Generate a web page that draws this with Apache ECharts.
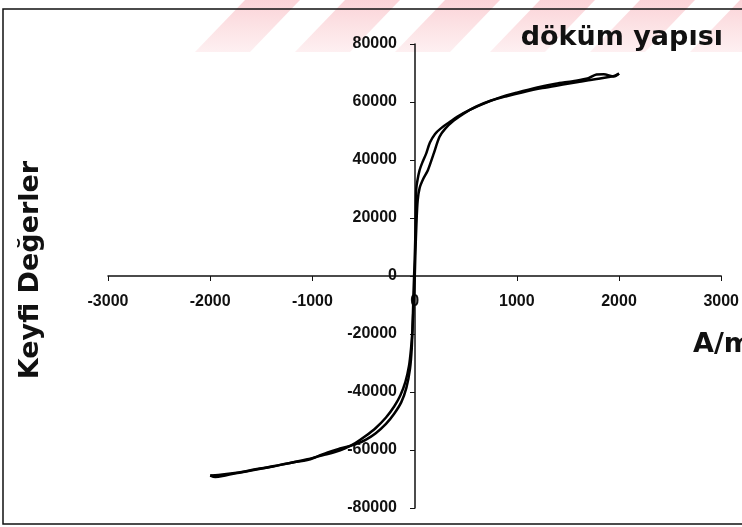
<!DOCTYPE html>
<html>
<head>
<meta charset="utf-8">
<script src="https://cdn.jsdelivr.net/npm/echarts@6/dist/echarts.min.js"></script>
<style>
  html, body { margin: 0; padding: 0; background: #fff; }
  #main { width: 742px; height: 527px; }
</style>
</head>
<body>
<div id="main"></div>
<script>
// inen kol (H azalirken)
var downX = [2000, 1950, 1850, 1780, 1700, 1550, 1380, 1200, 1000, 830, 700, 540, 420, 340, 260, 200, 150, 114, 80, 49, 28, 16, 8, 0, -10, -18, -28, -45, -80, -130, -200, -280, -380, -480, -560, -650, -750, -850, -950, -1050, -1200, -1400, -1600, -1750, -1880, -1950, -2000];
var downY = [69800, 68800, 69600, 69500, 68200, 67200, 66300, 65000, 63200, 61500, 59800, 57300, 55000, 53000, 51000, 49000, 46000, 42300, 39500, 36500, 33000, 29800, 15000, 5000, -5000, -15000, -25000, -32000, -38500, -43500, -47500, -51000, -54200, -56500, -57800, -58800, -59700, -60800, -62200, -63500, -64300, -65800, -67100, -68000, -69000, -69300, -68800];
// cikan kol (H artarken)
var upX = [-2000, -1920, -1800, -1650, -1450, -1250, -1050, -900, -780, -680, -580, -480, -380, -280, -200, -140, -90, -55, -35, -20, -10, 0, 8, 18, 30, 49, 85, 130, 185, 244, 300, 380, 480, 600, 750, 900, 1050, 1250, 1450, 1600, 1700, 1800, 1900, 1960, 2000];
var upY = [-68800, -68600, -68100, -67300, -66000, -64700, -63200, -61800, -60700, -59400, -57600, -55200, -52400, -48800, -45000, -41200, -36500, -31000, -25000, -18000, -10000, -2000, 8000, 18000, 26000, 30300, 33500, 36500, 42000, 48000, 50800, 53500, 56000, 58400, 60500, 62000, 63300, 64800, 66000, 66900, 67500, 68000, 68600, 69100, 69800];

var xTicks = [-3000, -2000, -1000, 0, 1000, 2000, 3000];
var yTicks = [-80000, -60000, -40000, -20000, 0, 20000, 40000, 60000, 80000];

function pairs(xs, ys) {
  var out = [];
  for (var i = 0; i < xs.length; i++) out.push([xs[i], ys[i]]);
  return out;
}

var W = 742, H = 527;
var gLeft = 108, gRight = 20, gTop = 44, gBottom = 19;
// eksenler sifirdan gecsin diye ortaya kaydiriliyor
var xShift = -(H - gTop - gBottom) / 2;
var yShift = -(W - gLeft - gRight) / 2;

var myChart = echarts.init(document.getElementById('main'));

// ust kisimdaki kirmizi seritler
var stripeLeft = [195, 295, 395, 490, 590, 690];
var stripes = stripeLeft.map(function (x0) {
  return {
    type: 'polygon',
    silent: true,
    z: -10,
    shape: { points: [[x0, 52], [x0 + 55, 52], [x0 + 105, 0], [x0 + 50, 0]] },
    style: {
      fill: new echarts.graphic.LinearGradient(0, 0, 0, 1, [
        { offset: 0, color: 'rgba(235,40,60,0.2)' },
        { offset: 1, color: 'rgba(235,40,60,0.07)' }
      ])
    }
  };
});

var labelStyle = {
  color: '#111',
  fontFamily: 'Liberation Sans',
  fontWeight: 'bold',
  fontSize: 16,
  margin: 18,
  formatter: function (v) { return String(v); }
};

var option = {
  animation: false,
  backgroundColor: '#fff',
  title: {
    text: 'döküm yapısı',
    right: 14,
    top: 19,
    textStyle: { fontFamily: 'DejaVu Sans', fontWeight: 'bold', fontSize: 27, color: '#111' }
  },
  grid: { left: gLeft, right: gRight, top: gTop, bottom: gBottom },
  xAxis: {
    type: 'value',
    position: 'bottom',
    offset: xShift,
    min: xTicks[0],
    max: xTicks[xTicks.length - 1],
    interval: 1000,
    axisLine: { onZero: false, lineStyle: { color: '#111', width: 1.5 } },
    axisTick: { show: true, length: 5, lineStyle: { color: '#111' } },
    axisLabel: labelStyle,
    splitLine: { show: false }
  },
  yAxis: {
    type: 'value',
    position: 'left',
    offset: yShift,
    min: yTicks[0],
    max: yTicks[yTicks.length - 1],
    interval: 20000,
    axisLine: { show: true, onZero: false, lineStyle: { color: '#111', width: 1.5 } },
    axisTick: { show: true, length: 5, lineStyle: { color: '#111' } },
    axisLabel: labelStyle,
    splitLine: { show: false }
  },
  series: [{
    name: 'inen',
    type: 'line',
    data: pairs(downX, downY),
    showSymbol: false,
    smooth: 0.3,
    lineStyle: { color: '#000', width: 2.5 }
  }, {
    name: 'cikan',
    type: 'line',
    data: pairs(upX, upY),
    showSymbol: false,
    smooth: 0.3,
    lineStyle: { color: '#000', width: 2.5 }
  }],
  graphic: stripes.concat([{
    type: 'rect',
    silent: true,
    shape: { x: 3, y: 9, width: 760, height: 515 },
    style: { fill: null, stroke: '#111', lineWidth: 1.5 }
  }, {
    type: 'text',
    x: 31,
    y: 270,
    rotation: Math.PI / 2,
    style: {
      text: 'Keyfi Değerler',
      fontFamily: 'DejaVu Sans',
      fontWeight: 'bold',
      fontSize: 27,
      fill: '#111',
      align: 'center',
      verticalAlign: 'middle'
    }
  }, {
    type: 'text',
    x: 693,
    y: 345,
    style: {
      text: 'A/m',
      fontFamily: 'DejaVu Sans',
      fontWeight: 'bold',
      fontSize: 27,
      fill: '#111',
      align: 'left',
      verticalAlign: 'middle'
    }
  }])
};

myChart.setOption(option);
</script>
</body>
</html>
